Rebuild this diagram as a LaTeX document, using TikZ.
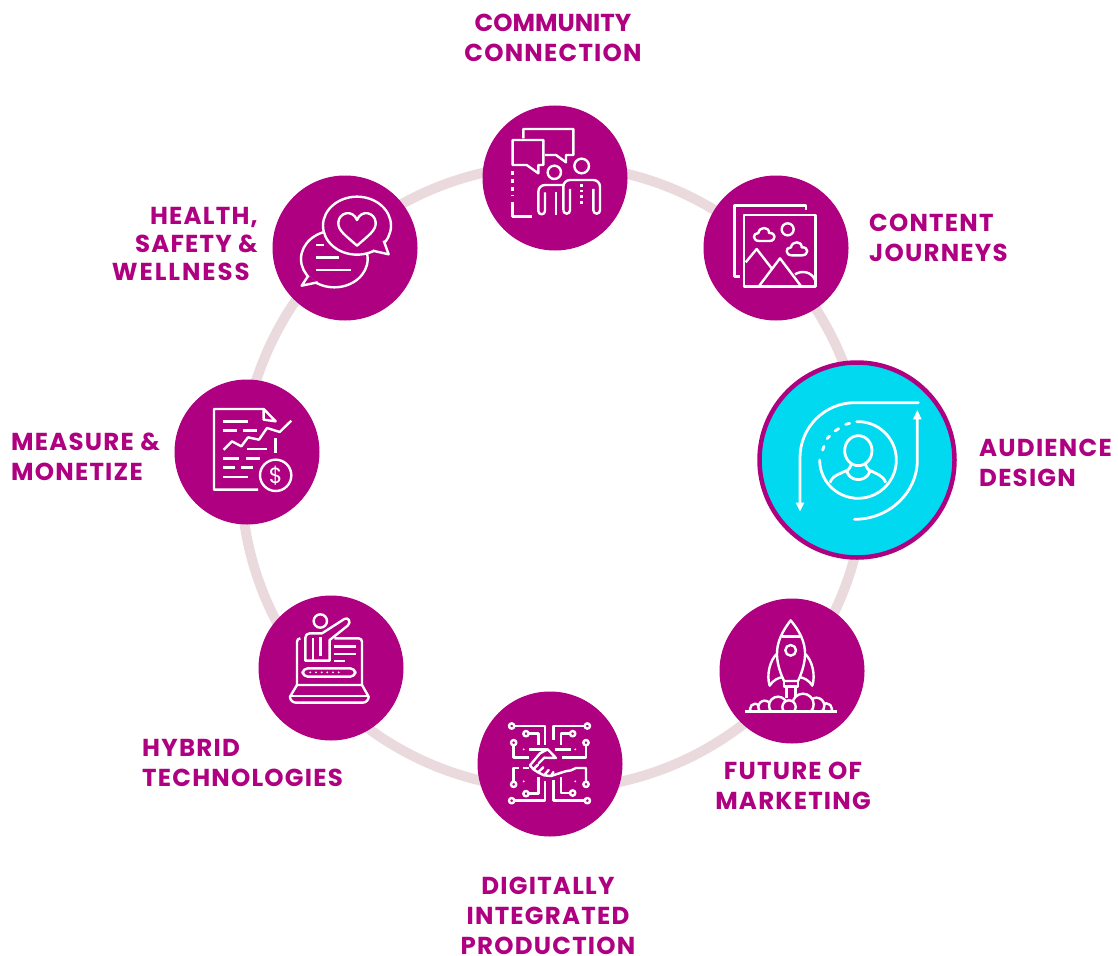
\documentclass[tikz,border=0pt]{standalone}
\usepackage{fontspec}
\setmainfont{Poppins}[LetterSpace=5]
\usetikzlibrary{arrows.meta}
\definecolor{mag}{HTML}{AE0080}
\definecolor{cyn}{HTML}{00D9EF}
\definecolor{rng}{HTML}{EBDADD}
\tikzset{
  blob/.style={circle,fill=mag,minimum size=145,inner sep=0,outer sep=0},
  lab/.style={text=mag,inner sep=0,font=\fontsize{24.5}{30}\selectfont\bfseries},
  ic/.style={white,line width=2.4pt,line join=round,line cap=butt},
  zoomed/.style={shift={#1},scale=1/3}
}
\newcommand{\cloudicon}[2]{\begin{scope}[shift={(#1,#2)}]
 \draw[ic] (-15,15) .. controls (-36,15) and (-36,-9) .. (-18,-9) .. controls (-15,-29) and (15,-29) .. (14,-9) .. controls (36,-11) and (36,15) .. (15,15) -- cycle;
\end{scope}}
\begin{document}
\begin{tikzpicture}[x=1pt,y=-1pt]
\useasboundingbox (0,0) rectangle (1118,955);
\node[circle,draw=rng,line width=10pt,minimum size=624,inner sep=0,outer sep=0] (ring) at (553,477) {};

\node[blob] (c1) at (555,178) {};
\node[blob] (c2) at (776,248) {};
\node[circle,fill=cyn,draw=mag,line width=4.5pt,minimum size=195,inner sep=0,outer sep=0] (c3) at (857,460) {};
\node[blob] (c4) at (792,671) {};
\node[blob] (c5) at (550,764) {};
\node[blob] (c6) at (331,668) {};
\node[blob] (c7) at (247,452) {};
\node[blob] (c8) at (345,248) {};

% community
\begin{scope}[zoomed={(480,105)}]
 \draw[ic] (130,100)--(130,72)--(280,72)--(280,150)--(258,150)--(258,172)--(228,150)--(195,150);
 \draw[ic] (98,105)--(190,105)--(190,180)--(175,180)--(175,205)--(140,180)--(98,180)--cycle;
 \draw[ic,dashed,dash pattern=on 4pt off 4pt] (98,198)--(98,272);
 \draw[ic] (98,290)--(98,334)--(156,334);
 \draw[ic] (223,202) circle (20);
 \draw[ic] (305,183) circle (22);
 \draw[ic] (250,240)--(195,240) arc[start angle=-90,end angle=-180,radius=20]--(175,318) arc[start angle=180,end angle=0,radius=10]--(195,262);
 \draw[ic] (228,262)--(228,330);
 \draw[ic] (250,316)--(250,245) arc[start angle=-180,end angle=-90,radius=20]--(340,225) arc[start angle=-90,end angle=0,radius=20]--(360,316) arc[start angle=0,end angle=180,radius=10]--(340,252);
 \draw[ic] (250,316) arc[start angle=180,end angle=0,radius=10]--(270,252);
 \draw[ic,dash pattern=on 2.5pt off 3pt] (305,222)--(305,302);
\end{scope}

% content journeys
\begin{scope}[zoomed={(700,175)}]
 \draw[ic] (318,105)--(318,92)--(103,92)--(103,305)--(120,305);
 \draw[ic] (132,120) rectangle (347,335);
 \draw[ic] (263,163) circle (18);
 \cloudicon{193}{183}
 \cloudicon{291}{226}
 \draw[ic] (137,262)--(170,222)--(215,280);
 \draw[ic] (178,332)--(240,250)--(302,332);
 \draw[ic] (285,298) .. controls (305,285) and (335,290) .. (345,315);
\end{scope}

% audience design
\begin{scope}[zoomed={(755,360)},ic/.append style={line width=2.8pt}]
 \draw[ic,line cap=round] (490,128)--(300,128) arc[start angle=-90,end angle=-180,radius=165]--(135,432);
 \fill[white] (135,454)--(122,428)--(148,428)--cycle;
 \draw[ic,line cap=round] (298,478) arc[start angle=90,end angle=0,x radius=189,y radius=178]--(487,172);
 \fill[white] (487,150)--(474,178)--(500,178)--cycle;
 \draw[ic,line cap=round] (305,185) arc[start angle=-92,end angle=180,radius=115];
 \draw[ic,line cap=round] (272,193)--(284,190) (240,213)--(251,206) (216,236)--(224,228) (203,270)--(207,259);
 \draw[ic] (310,272) ellipse (41 and 45);
 \draw[ic] (225,368) .. controls (232,345) and (260,340) .. (278,330);
 \draw[ic] (392,368) .. controls (385,345) and (360,340) .. (342,330);
 \draw[ic] (290,310) .. controls (285,330) and (270,332) .. (278,340) .. controls (290,365) and (330,365) .. (342,340) .. controls (350,332) and (335,330) .. (330,310);
\end{scope}

% future of marketing
\begin{scope}[zoomed={(718,597)}]
 \draw[ic] (218,70) .. controls (195,100) and (175,135) .. (177,175) .. controls (178,205) and (190,235) .. (198,252)--(240,252) .. controls (248,235) and (260,205) .. (261,175) .. controls (263,135) and (243,100) .. (218,70)--cycle;
 \draw[ic] (192,118)--(245,118);
 \draw[ic] (177,170) .. controls (155,190) and (145,235) .. (155,266) .. controls (165,250) and (180,242) .. (195,240);
 \draw[ic] (261,170) .. controls (283,190) and (293,235) .. (283,266) .. controls (273,250) and (258,242) .. (243,240);
 \draw[ic] (218,160) circle (16);
 \draw[ic] (198,252)--(198,268)--(240,268)--(240,252);
 \draw[ic] (205,268)--(205,303) (232,268)--(232,303);
 \begin{scope}
  \clip (80,200) rectangle (360,343);
  \foreach \cx/\cy/\cr in {325/336/17,112/336/16,140/330/19,295/326/24,180/326/27,255/322/32,213/330/20}{
   \draw[ic,fill=mag] (\cx,\cy) circle (\cr);
  }
 \end{scope}
 \draw[ic] (82,343)--(357,343);
\end{scope}

% digitally integrated production
\begin{scope}[zoomed={(476,692)}]
 \foreach \px/\py in {107/102,150/125,113/152,334/102,290/125,330/152,107/326,150/305,113/277,334/326,290/303,330/277}{
  \draw[ic] (\px,\py) circle (8);
 }
 \draw[ic] (115,102)--(207,102)--(207,160);
 \draw[ic] (158,125)--(188,125)--(188,158);
 \draw[ic] (113,160)--(113,197)--(160,197);
 \draw[ic] (326,102)--(232,102)--(232,145);
 \draw[ic] (282,125)--(255,125)--(255,158);
 \draw[ic] (330,160)--(330,197)--(258,197);
 \draw[ic] (238,172)--(285,172);
 \draw[ic] (160,172)--(215,172);
 \draw[ic] (115,326)--(207,326)--(207,268);
 \draw[ic] (158,305)--(188,305)--(188,255);
 \draw[ic] (113,269)--(113,228)--(130,228);
 \draw[ic] (140,228)--(160,228);
 \draw[ic] (326,326)--(232,326)--(232,265);
 \draw[ic] (282,303)--(255,303)--(255,255);
 \draw[ic] (330,269)--(330,228)--(300,228)--(285,235)--(268,238);
 \fill[white] (143,172) circle (3) (298,172) circle (3) (143,268) circle (3) (298,268) circle (3);
 \draw[ic,line cap=round] (162,220)--(192,184)--(215,172)--(240,198)--(205,197)--(188,214);
 \draw[ic,line cap=round] (162,220)--(172,232)--(186,218) (172,232)--(186,241)--(202,226) (186,241)--(204,250)--(218,234) (204,250)--(225,252)--(232,240) (225,252)--(268,238);
\end{scope}

% hybrid technologies
\begin{scope}[zoomed={(257,595)}]
 \draw[ic] (190,78) circle (20);
 \draw[ic] (145,197)--(145,128) arc[start angle=-180,end angle=-90,radius=13]--(195,115)--(262,72) .. controls (272,65) and (285,80) .. (272,92)--(218,135)--(218,197)--cycle;
 \draw[ic] (168,130)--(168,197) (190,125)--(190,182);
 \draw[ic] (130,130) arc[start angle=-90,end angle=-180,radius=10]--(120,270);
 \draw[ic] (232,130)--(305,130) arc[start angle=-90,end angle=0,radius=10]--(315,270);
 \draw[ic] (232,155)--(297,155) (232,177)--(297,177) (232,198)--(265,198);
 \draw[ic,rounded corners=5] (137,220) rectangle (295,245);
 \foreach \dx in {160,177,194,211,228,245}{\fill[white] (\dx,232) circle (3);}
 \draw[ic] (120,270)--(315,270)--(335,305) arc[start angle=0,end angle=90,radius=18]--(117,323) arc[start angle=90,end angle=180,radius=18]--cycle;
 \draw[ic] (103,303)--(332,303);
\end{scope}

% measure and monetize
\begin{scope}[zoomed={(173,378)}]
 \draw[ic] (255,335)--(123,335)--(123,93)--(272,93)--(272,125)--(308,130)--(272,93);
 \draw[ic] (308,180)--(308,225);
 \draw[ic] (150,130)--(225,130) (150,157)--(192,157) (210,157)--(252,157);
 \draw[ic] (152,215)--(177,190)--(205,205)--(225,178)--(258,185)--(282,150)--(320,162)--(355,128);
 \draw[ic] (222,213)--(282,213) (150,241)--(198,241) (220,241)--(260,241) (150,268)--(185,268) (205,268)--(240,268) (150,297)--(225,297);
 \draw[ic] (308,292) circle (47);
 \node[text=white,inner sep=0,font=\fontsize{22}{22}\selectfont] (dollar) at (308,292) {\$};
\end{scope}

% health
\begin{scope}[zoomed={(271,174)}]
 \draw[ic] (190,255) ellipse (100 and 85);
 \draw[ic,fill=mag] (112,305)--(92,335)--(140,325);
 \draw[ic,fill=mag] (258,155) ellipse (102 and 87);
 \draw[ic,fill=mag] (338,200)--(353,241)--(305,230);
 \draw[ic] (258,215) .. controls (225,185) and (200,170) .. (202,145) .. controls (204,115) and (245,105) .. (258,138) .. controls (271,105) and (312,115) .. (314,145) .. controls (316,170) and (291,185) .. (258,215)--cycle;
 \draw[ic] (135,213)--(160,213) (135,250)--(203,250) (135,288)--(240,288);
\end{scope}

\node[lab,align=center] (t1) at (553,37.5) {{\addfontfeature{LetterSpace=0}COMMUNITY}\\CONNECTION};
\node[lab,align=left,anchor=west] (t2) at (869,237.5) {CONTENT\\JOURNEYS};
\node[lab,align=left,anchor=west] (t3) at (979,462.5) {AUDIENCE\\DESIGN};
\node[lab,align=center] (t4) at (793,785.5) {FUTURE OF\\MARKETING};
\node[lab,align=center] (t5) at (548,915.5) {DIGITALLY\\INTEGRATED\\PRODUCTION};
\node[lab,align=left,anchor=west] (t6) at (142,762.5) {HYBRID\\TECHNOLOGIES};
\node[lab,align=left,anchor=west] (t7) at (11,456.5) {MEASURE \&\\MONETIZE};
\node[lab,align=right,anchor=east,font=\fontsize{24.5}{28}\selectfont\bfseries] (t8) at (258,243.5) {HEALTH,\\SAFETY \&\hspace*{6pt}\\{\addfontfeature{LetterSpace=8}WELLNESS}\hspace*{8pt}};
\end{tikzpicture}
\end{document}
